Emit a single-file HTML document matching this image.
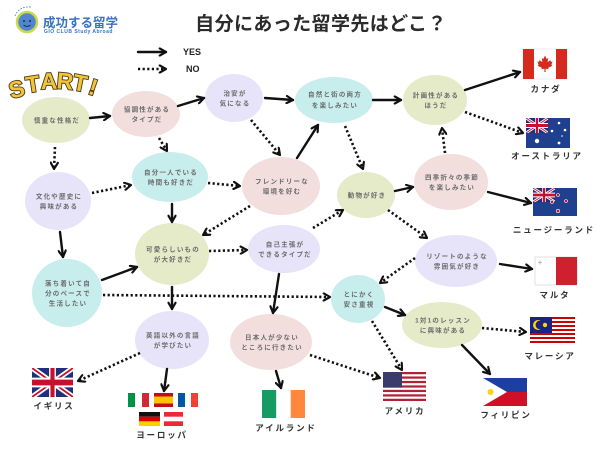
<!DOCTYPE html>
<html><head><meta charset="utf-8"><style>
html,body{margin:0;padding:0;background:#fff;}
svg{display:block;}
.n{font-family:"Liberation Sans","Noto Sans CJK JP",sans-serif;font-size:6.5px;font-weight:bold;fill:#6b6b6b;letter-spacing:1.2px;text-anchor:middle;}
.c{font-family:"Liberation Sans","Noto Sans CJK JP",sans-serif;font-size:8.5px;font-weight:bold;fill:#333;letter-spacing:1.8px;text-anchor:middle;}
.y{stroke:#111;stroke-width:2.4;fill:none;marker-end:url(#ah);stroke-linecap:round}
.d{stroke:#111;stroke-width:2.6;fill:none;stroke-dasharray:2.2 2.4;marker-end:url(#ah)}
.st{font-family:"Liberation Sans",sans-serif;font-weight:bold;font-size:23px;fill:#f2c438;stroke:#4a3a1a;stroke-width:1.8;paint-order:stroke;text-anchor:middle}
</style></head><body>
<svg width="600" height="450" viewBox="0 0 600 450" xmlns="http://www.w3.org/2000/svg">
<defs>
<marker id="ah" markerUnits="userSpaceOnUse" viewBox="0 0 10 10" refX="8.5" refY="5" markerWidth="9" markerHeight="9" orient="auto"><path d="M1.5,1 L8.5,5 L1.5,9" fill="none" stroke="#111" stroke-width="2.4" stroke-linecap="round" stroke-linejoin="round"/></marker>
<symbol id="uj" viewBox="0 0 60 30" preserveAspectRatio="none">
<rect width="60" height="30" fill="#1f2f7a"/>
<path d="M0,0 L60,30 M60,0 L0,30" stroke="#fff" stroke-width="6"/>
<path d="M0,0 L60,30 M60,0 L0,30" stroke="#c8102e" stroke-width="2"/>
<path d="M30,0 V30 M0,15 H60" stroke="#fff" stroke-width="10"/>
<path d="M30,0 V30 M0,15 H60" stroke="#c8102e" stroke-width="6"/>
</symbol>
</defs>

<!-- logo -->
<path d="M15,16 Q19,6 31,7" fill="none" stroke="#4f86cf" stroke-width="1" stroke-dasharray="1.5 1.5"/>
<circle cx="27" cy="22" r="10" fill="#4f86cf" stroke="#cbd94a" stroke-width="2.5"/>
<circle cx="24" cy="21" r="1" fill="#1d2d50"/>
<circle cx="30" cy="21" r="1" fill="#1d2d50"/>
<path d="M23.5,25 Q27,28 30.5,25" fill="none" stroke="#1d2d50" stroke-width="0.9"/>
<text x="43" y="27" style="font-family:'Liberation Sans','Noto Sans CJK JP',sans-serif;font-size:12.5px;font-weight:bold;fill:#3b72c0">成功する留学</text>
<text x="44" y="33" style="font-family:'Liberation Sans',sans-serif;font-size:5px;font-weight:bold;fill:#3b72c0;letter-spacing:0.5px">GIO CLUB Study Abroad</text>

<!-- title -->
<text x="321" y="30" text-anchor="middle" style="font-family:'Liberation Sans','Noto Sans CJK JP',sans-serif;font-size:19px;font-weight:bold;fill:#2b2b2b;letter-spacing:0.4px">自分にあった留学先はどこ？</text>

<!-- legend -->
<path class="y" d="M138,52 L166,52"/>
<path class="d" d="M138,69 L166,69"/>
<text x="183" y="55" style="font-family:'Liberation Sans',sans-serif;font-size:9px;font-weight:bold;fill:#222">YES</text>
<text x="186" y="72" style="font-family:'Liberation Sans',sans-serif;font-size:9px;font-weight:bold;fill:#222">NO</text>

<!-- START -->
<text class="st" x="17" y="97" transform="rotate(-16 17 90)">S</text>
<text class="st" x="33" y="92" transform="rotate(-9 33 85)">T</text>
<text class="st" x="49" y="89" transform="rotate(-2 49 82)">A</text>
<text class="st" x="65" y="89" transform="rotate(5 65 82)">R</text>
<text class="st" x="80" y="91" transform="rotate(11 80 84)">T</text>
<text class="st" x="93" y="95" transform="rotate(18 93 88)">!</text>

<!-- nodes -->
<g>
<ellipse cx="56" cy="120" rx="34" ry="23" fill="#e5ebc8"/>
<ellipse cx="146" cy="114" rx="34" ry="23" fill="#f3dede"/>
<ellipse cx="234" cy="98" rx="29" ry="24" fill="#e7e3f8"/>
<ellipse cx="334" cy="100" rx="39" ry="23" fill="#c8eded"/>
<ellipse cx="435" cy="100" rx="32" ry="25" fill="#e5ebc8"/>
<ellipse cx="58" cy="201" rx="33" ry="29" fill="#e7e3f8"/>
<ellipse cx="170" cy="177" rx="38" ry="25" fill="#c8eded"/>
<ellipse cx="281" cy="186" rx="39" ry="29" fill="#f3dede"/>
<ellipse cx="366" cy="195" rx="29" ry="23" fill="#e5ebc8"/>
<ellipse cx="451" cy="182" rx="37" ry="28" fill="#f3dede"/>
<ellipse cx="172" cy="254" rx="37" ry="31" fill="#e5ebc8"/>
<ellipse cx="284" cy="249" rx="36" ry="24" fill="#e7e3f8"/>
<ellipse cx="456" cy="261" rx="41" ry="26" fill="#e7e3f8"/>
<ellipse cx="67" cy="293" rx="35" ry="34" fill="#c8eded"/>
<ellipse cx="358" cy="299" rx="27" ry="24" fill="#c8eded"/>
<ellipse cx="442" cy="325" rx="40" ry="23" fill="#e5ebc8"/>
<ellipse cx="172" cy="340" rx="37" ry="29" fill="#e7e3f8"/>
<ellipse cx="271" cy="342" rx="41" ry="28" fill="#f3dede"/>
</g>

<!-- node text -->
<text class="n" x="57" y="122.5">慎重な性格だ</text>
<text class="n" x="147" y="111.5">協調性がある</text><text class="n" x="147" y="121.5">タイプだ</text>
<text class="n" x="235" y="95.5">治安が</text><text class="n" x="235" y="105.5">気になる</text>
<text class="n" x="335" y="96.5">自然と街の両方</text><text class="n" x="335" y="107.5">を楽しみたい</text>
<text class="n" x="436" y="97.5">計画性がある</text><text class="n" x="436" y="107.5">ほうだ</text>
<text class="n" x="59" y="198.5">文化や歴史に</text><text class="n" x="59" y="208.5">興味がある</text>
<text class="n" x="171" y="174.5">自分一人でいる</text><text class="n" x="171" y="184.5">時間も好きだ</text>
<text class="n" x="282" y="183.5">フレンドリーな</text><text class="n" x="282" y="193.5">環境を好む</text>
<text class="n" x="367" y="197.5">動物が好き</text>
<text class="n" x="452" y="179.5">四季折々の季節</text><text class="n" x="452" y="189.5">を楽しみたい</text>
<text class="n" x="173" y="251.5">可愛らしいもの</text><text class="n" x="173" y="261.5">が大好きだ</text>
<text class="n" x="285" y="246.5">自己主張が</text><text class="n" x="285" y="256.5">できるタイプだ</text>
<text class="n" x="457" y="258.5">リゾートのような</text><text class="n" x="457" y="268.5">雰囲気が好き</text>
<text class="n" x="68" y="285.3">落ち着いて自</text><text class="n" x="68" y="295.3">分のペースで</text><text class="n" x="68" y="305.3">生活したい</text>
<text class="n" x="359" y="296.5">とにかく</text><text class="n" x="359" y="306.5">安さ重視</text>
<text class="n" x="443" y="322.5">1対1のレッスン</text><text class="n" x="443" y="332.5">に興味がある</text>
<text class="n" x="173" y="337.5">英語以外の言語</text><text class="n" x="173" y="347.5">が学びたい</text>
<text class="n" x="272" y="339.5">日本人が少ない</text><text class="n" x="272" y="349.5">ところに行きたい</text>

<!-- YES arrows -->
<path class="y" d="M90,118 L110,116"/>
<path class="y" d="M178,106 L204,98"/>
<path class="y" d="M265,98 L293,100"/>
<path class="y" d="M373,100 L401,100"/>
<path class="y" d="M297,158 L318,125"/>
<path class="y" d="M465,90 L520,72"/>
<path class="y" d="M488,192 L531,203"/>
<path class="y" d="M395,191 L413,187"/>
<path class="y" d="M500,264 L532,269"/>
<path class="y" d="M60,232 L63,257"/>
<path class="y" d="M172,204 L172,222"/>
<path class="y" d="M102,280 L137,267"/>
<path class="y" d="M172,287 L172,309"/>
<path class="y" d="M279,274 L273,313"/>
<path class="y" d="M167,369 L164,391"/>
<path class="y" d="M276,371 L281,388"/>
<path class="y" d="M385,307 L405,315"/>
<path class="y" d="M462,345 L490,374"/>

<!-- NO arrows -->
<path class="d" d="M55,147 L54,169"/>
<path class="d" d="M159,138 L167,151"/>
<path class="d" d="M251,120 L280,155"/>
<path class="d" d="M345,126 L363,169"/>
<path class="d" d="M465,112 L523,133"/>
<path class="d" d="M445,153 L442,128"/>
<path class="d" d="M388,210 L427,238"/>
<path class="d" d="M313,228 L343,210"/>
<path class="d" d="M415,258 L380,283"/>
<path class="d" d="M92,193 L131,185"/>
<path class="d" d="M208,183 L240,186"/>
<path class="d" d="M250,206 L203,235"/>
<path class="d" d="M209,251 L247,250"/>
<path class="d" d="M103,295 L330,297"/>
<path class="d" d="M140,353 L78,381"/>
<path class="d" d="M310,355 L380,378"/>
<path class="d" d="M372,321 L402,370"/>
<path class="d" d="M482,328 L526,332"/>

<!-- Canada -->
<rect x="523" y="49" width="44" height="30" fill="#fff" stroke="#ddd" stroke-width="0.5"/>
<rect x="523" y="49" width="11" height="30" fill="#d52b1e"/>
<rect x="556" y="49" width="11" height="30" fill="#d52b1e"/>
<path transform="translate(545,63.5)" fill="#d52b1e" d="M0,-8 L1.6,-4.5 L3.2,-5.5 L2.6,-1.2 L5.2,-3.3 L6.2,-1.6 L7.6,-2.2 L6.4,1.2 L7.4,2.2 L3.2,4.3 L3.6,5.8 L0.6,5.2 L0.6,8.5 L-0.6,8.5 L-0.6,5.2 L-3.6,5.8 L-3.2,4.3 L-7.4,2.2 L-6.4,1.2 L-7.6,-2.2 L-6.2,-1.6 L-5.2,-3.3 L-2.6,-1.2 L-3.2,-5.5 L-1.6,-4.5 Z"/>
<text class="c" x="546" y="92">カナダ</text>

<!-- Australia -->
<rect x="526" y="118" width="44" height="30" fill="#1f3f8f"/>
<use href="#uj" x="526" y="118" width="22" height="15"/>
<circle cx="537" cy="141" r="2.2" fill="#fff"/>
<circle cx="559" cy="123" r="1.3" fill="#fff"/>
<circle cx="552" cy="131" r="1.3" fill="#fff"/>
<circle cx="565" cy="130" r="1.3" fill="#fff"/>
<circle cx="559" cy="143" r="1.4" fill="#fff"/>
<circle cx="562" cy="136" r="0.8" fill="#fff"/>
<text class="c" x="547" y="159">オーストラリア</text>

<!-- New Zealand -->
<rect x="533" y="188" width="44" height="28" fill="#1f3f8f"/>
<use href="#uj" x="533" y="188" width="22" height="14"/>
<circle cx="558" cy="195" r="1.5" fill="#c8102e" stroke="#fff" stroke-width="0.6"/>
<circle cx="552" cy="202" r="1.5" fill="#c8102e" stroke="#fff" stroke-width="0.6"/>
<circle cx="566" cy="201" r="1.5" fill="#c8102e" stroke="#fff" stroke-width="0.6"/>
<circle cx="558" cy="211" r="1.7" fill="#c8102e" stroke="#fff" stroke-width="0.6"/>
<text class="c" x="554" y="233">ニュージーランド</text>

<!-- Malta -->
<rect x="535" y="257" width="42" height="28" fill="#fff" stroke="#ccc" stroke-width="0.6"/>
<rect x="556" y="257" width="21" height="28" fill="#cf2030"/>
<path d="M540,260.5 v4 M538,262.5 h4" stroke="#aaa" stroke-width="0.8"/>
<text class="c" x="555" y="298">マルタ</text>

<!-- Malaysia -->
<g>
<rect x="530" y="317" width="45" height="28" fill="#fff"/>
<rect x="530" y="317" width="45" height="2" fill="#cc0001"/>
<rect x="530" y="321" width="45" height="2" fill="#cc0001"/>
<rect x="530" y="325" width="45" height="2" fill="#cc0001"/>
<rect x="530" y="329" width="45" height="2" fill="#cc0001"/>
<rect x="530" y="333" width="45" height="2" fill="#cc0001"/>
<rect x="530" y="337" width="45" height="2" fill="#cc0001"/>
<rect x="530" y="341" width="45" height="2" fill="#cc0001"/>
<rect x="530" y="317" width="22" height="16" fill="#1a237e"/>
<circle cx="538" cy="325" r="5" fill="#fcd116"/>
<circle cx="539.8" cy="325" r="4.2" fill="#1a237e"/>
<circle cx="545" cy="325" r="2.2" fill="#fcd116"/>
</g>
<text class="c" x="550" y="359">マレーシア</text>

<!-- Philippines -->
<rect x="483" y="378" width="44" height="14" fill="#1c3fa0"/>
<rect x="483" y="392" width="44" height="14" fill="#ce1126"/>
<path d="M483,378 L507,392 L483,406 Z" fill="#fff"/>
<circle cx="490.5" cy="392" r="3" fill="#fcd116"/>
<text class="c" x="506" y="418">フィリピン</text>

<!-- USA -->
<g>
<rect x="383" y="372" width="43" height="29" fill="#fff"/>
<rect x="383" y="372" width="43" height="2.23" fill="#b22234"/>
<rect x="383" y="376.46" width="43" height="2.23" fill="#b22234"/>
<rect x="383" y="380.92" width="43" height="2.23" fill="#b22234"/>
<rect x="383" y="385.38" width="43" height="2.23" fill="#b22234"/>
<rect x="383" y="389.84" width="43" height="2.23" fill="#b22234"/>
<rect x="383" y="394.3" width="43" height="2.23" fill="#b22234"/>
<rect x="383" y="398.77" width="43" height="2.23" fill="#b22234"/>
<rect x="383" y="372" width="19" height="15.6" fill="#3c3b6e"/>
</g>
<text class="c" x="405" y="414">アメリカ</text>

<!-- UK -->
<use href="#uj" x="32" y="368" width="41" height="29"/>
<text class="c" x="54" y="409">イギリス</text>

<!-- Europe -->
<rect x="128" y="393" width="7" height="14" fill="#009246"/><rect x="135" y="393" width="7" height="14" fill="#fff"/><rect x="142" y="393" width="7" height="14" fill="#ce2b37"/>
<rect x="154" y="393" width="19" height="14" fill="#c60b1e"/><rect x="154" y="396.5" width="19" height="7" fill="#ffc400"/>
<rect x="178" y="393" width="7" height="14" fill="#0055a4"/><rect x="185" y="393" width="6" height="14" fill="#fff"/><rect x="191" y="393" width="7" height="14" fill="#ef4135"/>
<rect x="139" y="412" width="21" height="4.7" fill="#111"/><rect x="139" y="416.7" width="21" height="4.7" fill="#dd0000"/><rect x="139" y="421.4" width="21" height="4.6" fill="#ffce00"/>
<rect x="164" y="412" width="19" height="14" fill="#ed2939"/><rect x="164" y="416.7" width="19" height="4.6" fill="#fff"/>
<text class="c" x="162" y="438">ヨーロッパ</text>

<!-- Ireland -->
<rect x="262" y="390" width="14.3" height="28" fill="#169b62"/>
<rect x="276.3" y="390" width="14.4" height="28" fill="#fff"/>
<rect x="290.7" y="390" width="14.3" height="28" fill="#ff883e"/>
<text class="c" x="286" y="431">アイルランド</text>
</svg>
</body></html>
